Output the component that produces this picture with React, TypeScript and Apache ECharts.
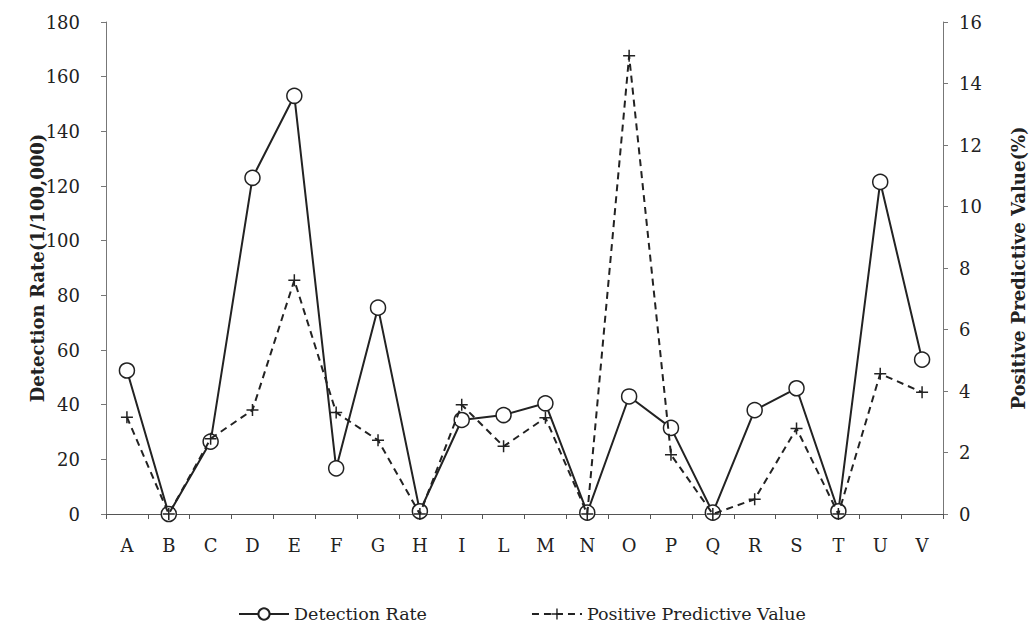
import React, { useEffect, useRef } from "react";
import * as echarts from "echarts";

const categories = ["A","B","C","D","E","F","G","H","I","L","M","N","O","P","Q","R","S","T","U","V"];
const detectionRate = [52.5, 0, 26.5, 123, 153, 16.7, 75.5, 1, 34.4, 36.2, 40.5, 0.5, 43, 31.5, 0.5, 38, 46, 1, 121.5, 56.5];
const ppv = [3.15, 0, 2.45, 3.38, 7.6, 3.3, 2.4, 0, 3.55, 2.2, 3.13, 0, 14.9, 1.93, 0, 0.48, 2.78, 0, 4.56, 3.96];
const leftTicks = { min: 0, max: 180, interval: 20 };
const rightTicks = { min: 0, max: 16, interval: 2 };

const FONT = "DejaVu Serif";
const INK = "#222";
const PLUS = "path://M7,0 H9 V7 H16 V9 H9 V16 H7 V9 H0 V7 H7 Z";

export default function App() {
  const ref = useRef<HTMLDivElement>(null);
  useEffect(() => {
    if (!ref.current) return;
    const chart = echarts.init(ref.current, null, { renderer: "svg" });
    chart.setOption({
      animation: false,
      backgroundColor: "#fff",
      textStyle: { fontFamily: FONT, color: INK },
      grid: { left: 106, right: 91, top: 22, bottom: 110, containLabel: false },
      legend: {
        left: 233,
        top: 600,
        itemWidth: 50,
        itemHeight: 14,
        itemGap: 104,
        textStyle: { fontFamily: FONT, fontSize: 17.5, color: INK },
        data: ["Detection Rate", "Positive Predictive Value"],
      },
      xAxis: {
        type: "category",
        data: categories,
        boundaryGap: true,
        axisLine: { lineStyle: { color: "#555", width: 1.2 } },
        axisTick: { show: true, inside: false, length: 5, lineStyle: { color: "#555" } },
        axisLabel: { fontFamily: FONT, fontSize: 18, color: INK, margin: 22 },
      },
      yAxis: [
        {
          type: "value",
          ...leftTicks,
          name: "Detection Rate(1/100,000)",
          nameLocation: "middle",
          nameGap: 60,
          nameMoveOverlap: false,
          nameTextStyle: { fontFamily: FONT, fontSize: 18, fontWeight: "bold", color: INK },
          splitLine: { show: false },
          axisLine: { show: true, lineStyle: { color: "#777", width: 1 } },
          axisTick: { show: true, length: 5, lineStyle: { color: "#777" } },
          axisLabel: { fontFamily: FONT, fontSize: 18, color: INK, margin: 26 },
        },
        {
          type: "value",
          ...rightTicks,
          position: "right",
          name: "Positive Predictive Value(%)",
          nameLocation: "middle",
          nameGap: 66,
          nameTextStyle: { fontFamily: FONT, fontSize: 18, fontWeight: "bold", color: INK },
          splitLine: { show: false },
          axisLine: { show: true, lineStyle: { color: "#777", width: 1 } },
          axisTick: { show: true, length: 5, lineStyle: { color: "#777" } },
          axisLabel: { fontFamily: FONT, fontSize: 18, color: INK, margin: 16 },
        },
      ],
      series: [
        {
          name: "Detection Rate",
          type: "line",
          yAxisIndex: 0,
          data: detectionRate,
          symbol: "circle",
          symbolSize: 15,
          showAllSymbol: true,
          lineStyle: { color: INK, width: 2, type: "solid" },
          itemStyle: { color: "#fff", borderColor: INK, borderWidth: 1.5 },
          z: 2,
        },
        {
          name: "Positive Predictive Value",
          type: "line",
          yAxisIndex: 1,
          data: ppv,
          symbol: PLUS,
          symbolSize: 12,
          showAllSymbol: true,
          lineStyle: { color: INK, width: 2, type: [7, 5] },
          itemStyle: { color: INK, borderWidth: 0 },
          z: 3,
        },
      ],
    });
    return () => chart.dispose();
  }, []);
  return <div ref={ref} style={{ width: 1035, height: 624, position: "absolute", left: 0, top: 0 }} />;
}
